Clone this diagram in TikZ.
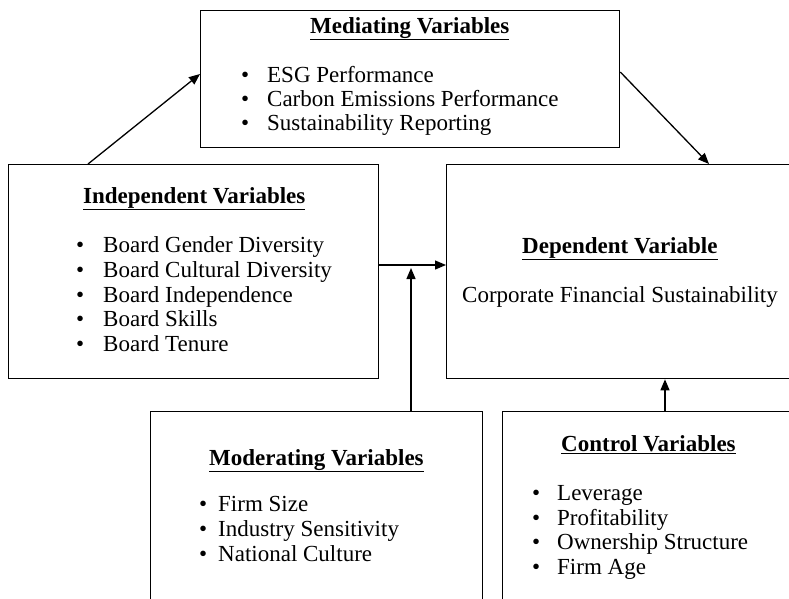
\documentclass[tikz,border=0pt]{standalone}
\usepackage{fontspec}
\setmainfont{Liberation Serif}
\usetikzlibrary{arrows.meta,calc}
% bullet hung to the left of the item text, #1 = gap in pt
\newcommand{\itembul}[2]{\llap{\textbullet\hspace{#1pt}}#2}
\begin{document}
\begin{tikzpicture}[x=1pt,y=-1pt,
  box/.style={draw, line width=1.3pt, rectangle, anchor=north west, inner sep=0pt},
  txt/.style={anchor=base west, inner sep=0pt, font=\fontsize{23}{25}\selectfont},
  ttl/.style={anchor=base west, inner sep=0pt, font=\fontsize{23}{25}\selectfont\bfseries},
  arr/.style={line width=1.3pt, -{Triangle[length=11pt,width=9pt]}},
]
\useasboundingbox (0,0) rectangle (789,598);
\fill[white] (0,0) rectangle (789,598);
\begin{scope}
\clip (0,0) rectangle (789,598);

% frames
\node[box, minimum width=419pt, minimum height=137pt] (med)   at (200,10)  {};
\node[box, minimum width=370pt, minimum height=214pt] (indep) at (8,164)   {};
\node[box, minimum width=360pt, minimum height=214pt] (dep)   at (446,164) {};
\node[box, minimum width=332pt, minimum height=200pt] (mod)   at (150,411) {};
\node[box, minimum width=300pt, minimum height=200pt] (ctrl)  at (502,411) {};

% mediating variables
\node[ttl] (medT) at (310,33) {\underline{Mediating Variables}};
\node[txt] (med1) at (267,82)  {\itembul{18}{ESG Performance}};
\node[txt] (med2) at (267,106) {\itembul{18}{Carbon Emissions Performance}};
\node[txt] (med3) at (267,130) {\itembul{18}{Sustainability Reporting}};

% independent variables
\node[ttl] (indT) at (83,203) {\underline{Independent Variables}};
\node[txt] (ind1) at (103,252) {\itembul{19}{Board Gender Diversity}};
\node[txt] (ind2) at (103,277) {\itembul{19}{Board Cultural Diversity}};
\node[txt] (ind3) at (103,302) {\itembul{19}{Board Independence}};
\node[txt] (ind4) at (103,326) {\itembul{19}{Board Skills}};
\node[txt] (ind5) at (103,351) {\itembul{19}{Board Tenure}};

% dependent variable
\node[ttl] (depT) at (522,253) {\underline{Dependent Variable}};
\node[txt] (dep1) at (462,302) {Corporate Financial Sustainability};

% moderating variables
\node[ttl] (modT) at (209,465) {\underline{Moderating Variables}};
\node[txt] (mod1) at (218,511) {\itembul{11}{Firm Size}};
\node[txt] (mod2) at (218,536) {\itembul{11}{Industry Sensitivity}};
\node[txt] (mod3) at (218,561) {\itembul{11}{National Culture}};

% control variables
\node[ttl] (ctrT) at (561,451) {\underline{Control Variables}};
\node[txt] (ctr1) at (557,500) {\itembul{17}{Leverage}};
\node[txt] (ctr2) at (557,525) {\itembul{17}{Profitability}};
\node[txt] (ctr3) at (557,549) {\itembul{17}{Ownership Structure}};
\node[txt] (ctr4) at (557,574) {\itembul{17}{Firm Age}};

% connectors
\coordinate (hl) at (0,265);
\coordinate (mx) at (411,0);
\coordinate (cx) at (665,0);
\draw[arr] ($(indep.north west)+(80,0)$) -- ($(med.north west)+(0,64)$);
\draw[arr] ($(med.north east)+(0,62)$) -- ($(dep.north west)+(263,0)$);
\draw[arr] (indep.east |- hl) -- (dep.west |- hl);
\draw[arr] (mod.north -| mx) -- ($(mx |- hl)+(0,3)$);
\draw[arr] (ctrl.north -| cx) -- (dep.south -| cx);
\end{scope}
\end{tikzpicture}
\end{document}
